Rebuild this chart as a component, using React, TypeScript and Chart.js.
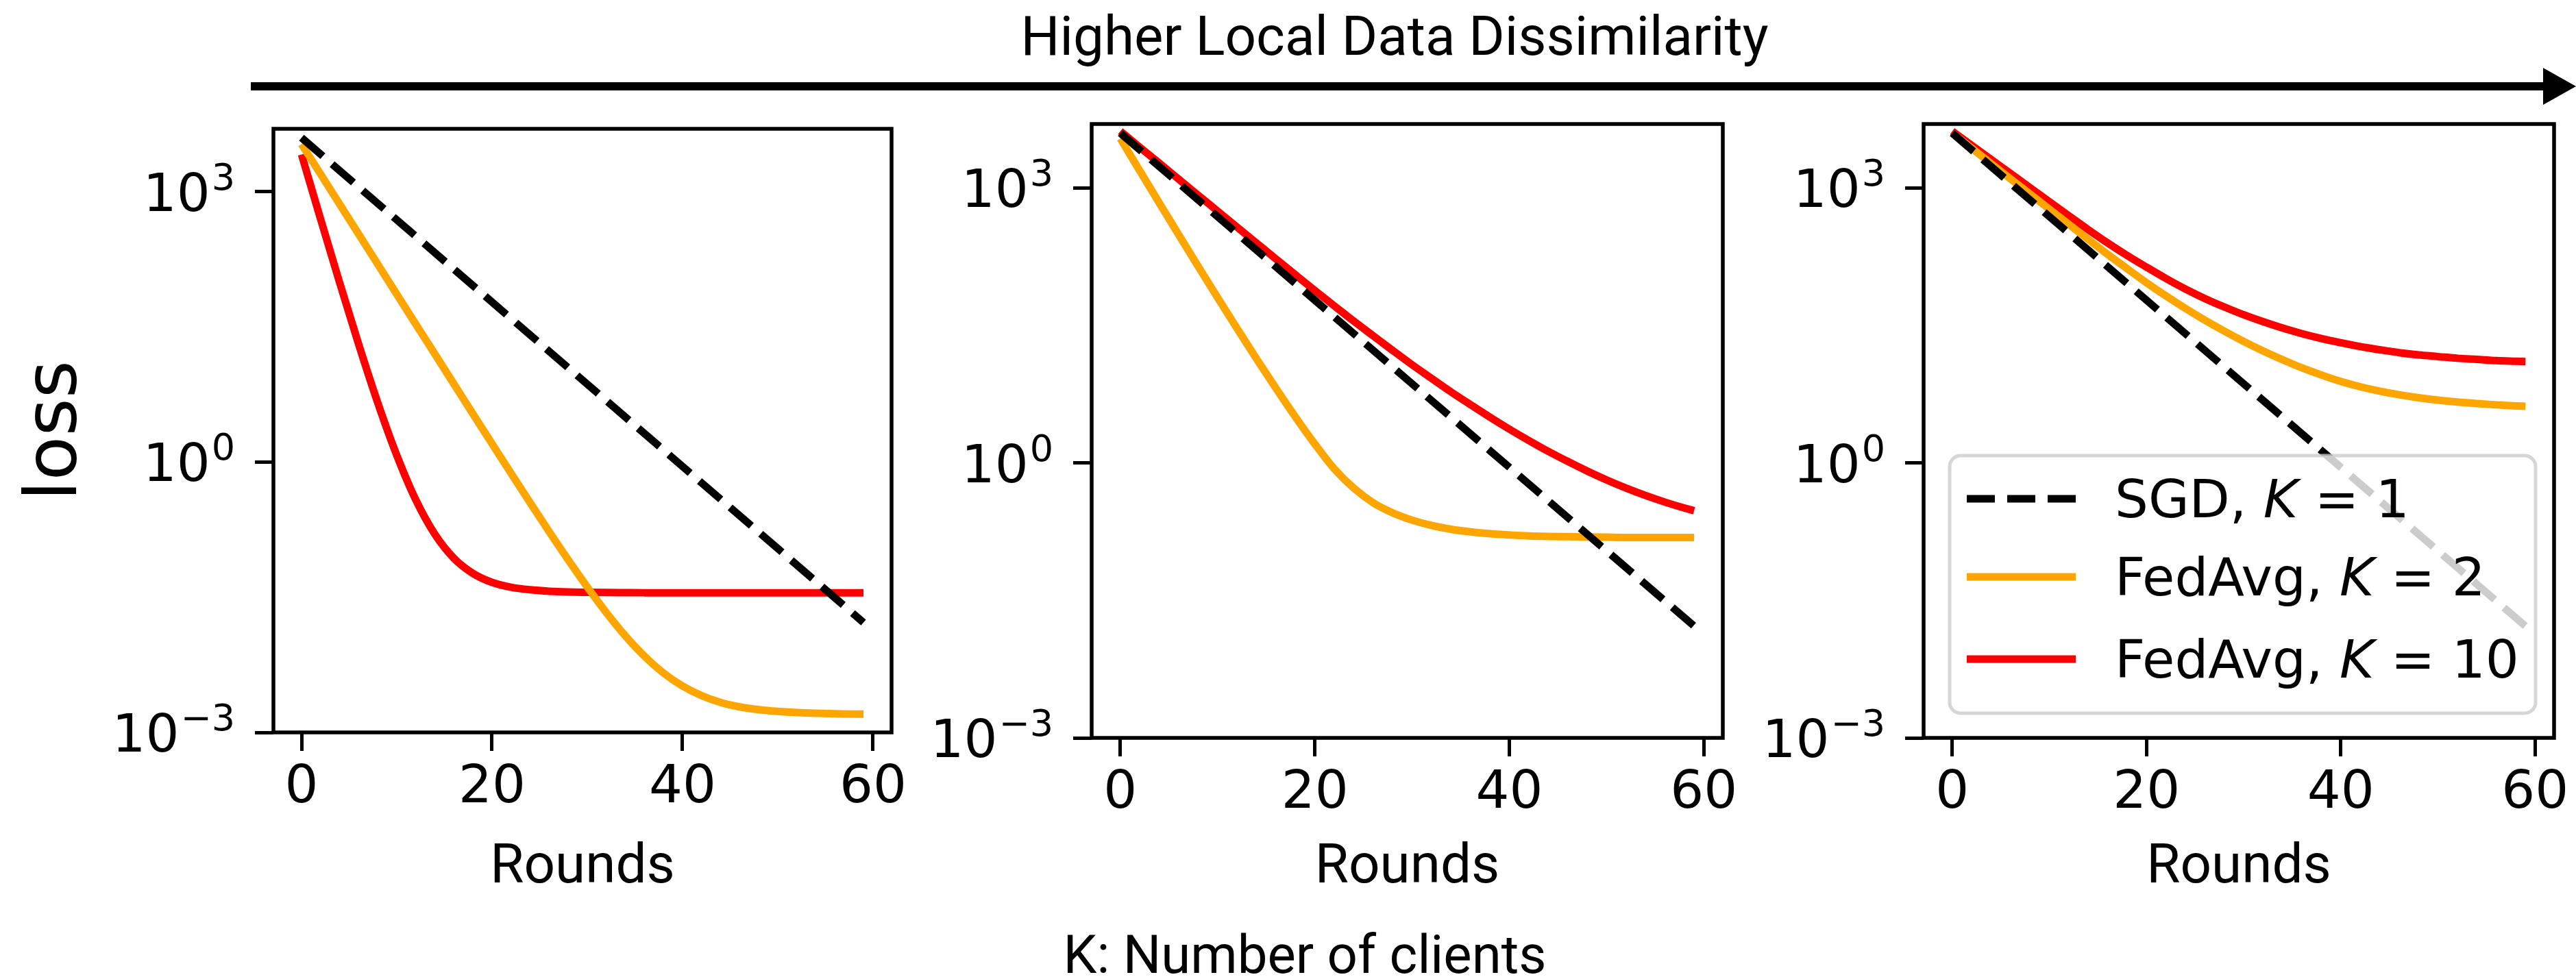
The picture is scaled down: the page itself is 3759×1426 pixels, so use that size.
import React, { useEffect, useRef } from 'react';
import { Chart, registerables } from 'chart.js';

Chart.register(...registerables);

// ---------------- data ----------------
const ROUNDS = [0, 2, 4, 6, 8, 10, 12, 14, 16, 18, 20, 22, 24, 26, 28, 30, 32, 34, 36, 38, 40, 42, 44, 46, 48, 50, 52, 54, 56, 58, 59];

const SGD_ROUNDS = [0, 59];
const SGD_LOSS = [3980, 0.0166];

const P1_FEDAVG_K2 = [3390, 1570, 729, 339, 157, 72.9, 33.9, 15.8, 7.35, 3.42, 1.6, 0.75, 0.354, 0.169, 0.0822, 0.0411, 0.0214, 0.0118, 0.00703, 0.00457, 0.00327, 0.00256, 0.00215, 0.00192, 0.00179, 0.00171, 0.00166, 0.00163, 0.00161, 0.0016, 0.0016];
const P1_FEDAVG_K10 = [2590, 498, 98.1, 20.3, 4.57, 1.19, 0.38, 0.158, 0.0855, 0.0581, 0.0463, 0.0409, 0.0383, 0.0369, 0.0362, 0.0359, 0.0357, 0.0356, 0.0355, 0.0355, 0.0355, 0.0355, 0.0355, 0.0355, 0.0355, 0.0355, 0.0355, 0.0355, 0.0355, 0.0355, 0.0355];

const P2_FEDAVG_K2 = [3470, 1540, 689, 309, 140, 63.7, 29.4, 13.7, 6.53, 3.18, 1.61, 0.863, 0.532, 0.368, 0.286, 0.238, 0.208, 0.189, 0.177, 0.169, 0.164, 0.16, 0.158, 0.157, 0.156, 0.155, 0.154, 0.154, 0.154, 0.154, 0.154];
const P2_FEDAVG_K10 = [4170, 2790, 1870, 1250, 836, 560, 375, 251, 168, 113, 76.2, 51.8, 35.3, 24.4, 16.9, 11.8, 8.38, 5.97, 4.33, 3.16, 2.34, 1.76, 1.34, 1.04, 0.817, 0.653, 0.532, 0.442, 0.374, 0.322, 0.302];

const P3_FEDAVG_K2 = [3980, 2720, 1850, 1260, 863, 589, 402, 275, 189, 132, 92.7, 66.5, 48.6, 36.2, 27.5, 21.2, 16.7, 13.4, 10.9, 9.12, 7.76, 6.79, 6.08, 5.55, 5.15, 4.85, 4.62, 4.45, 4.31, 4.2, 4.15];
const P3_FEDAVG_K10 = [4170, 2920, 2050, 1440, 1010, 708, 498, 352, 252, 184, 137, 103, 79.1, 62.4, 50.4, 41.4, 34.8, 29.7, 25.8, 22.8, 20.5, 18.6, 17.2, 16.0, 15.1, 14.5, 13.9, 13.5, 13.1, 12.9, 12.8];

const SERIES_LABELS = ['SGD, K = 1', 'FedAvg, K = 2', 'FedAvg, K = 10'];
const X_TICKS = [0, 20, 40, 60];
const Y_TICKS = [0.001, 1, 1000];
const Y_TICK_EXPONENTS = ['\u22123', '0', '3'];
const TOP_LABEL = 'Higher Local Data Dissimilarity';
const X_TITLE = 'Rounds';
const Y_TITLE = 'loss';
const CAPTION = 'K: Number of clients';

// ---------------- layout / style ----------------
const PANELS = [
  { left: 0, top: 178, width: 1341, height: 1162, padLeft: 399, xh: 271, k2: P1_FEDAVG_K2, k10: P1_FEDAVG_K10, yTitle: true, legend: false },
  { left: 1293, top: 171, width: 1261, height: 1169, padLeft: 300, xh: 263, k2: P2_FEDAVG_K2, k10: P2_FEDAVG_K10, yTitle: false, legend: false },
  { left: 2507, top: 171, width: 1260, height: 1169, padLeft: 300, xh: 263, k2: P3_FEDAVG_K2, k10: P3_FEDAVG_K10, yTitle: false, legend: true },
];

const MPL_FONT = '"DejaVu Sans"';
const SANS_FONT = 'Roboto, "Noto Sans", sans-serif';
const LINE_W = 11;
const TICK_LEN = 27;
const TICK_FONT = 77;

const framePlugin = {
  id: 'frame',
  afterDraw(chart: any) {
    const { ctx, chartArea: a } = chart;
    ctx.save();
    ctx.strokeStyle = '#000';
    ctx.lineWidth = 5.5;
    ctx.strokeRect(a.left, a.top, a.right - a.left, a.bottom - a.top);
    ctx.restore();
  },
};

const yLabelPlugin = {
  id: 'yLabels',
  afterDraw(chart: any) {
    const { ctx, chartArea: a } = chart;
    const ys = chart.scales.y;
    ctx.save();
    ctx.fillStyle = '#000';
    ctx.textBaseline = 'alphabetic';
    ctx.textAlign = 'left';
    Y_TICKS.forEach((v, i) => {
      const py = ys.getPixelForValue(v);
      const right = a.left - 56;
      const sup = Y_TICK_EXPONENTS[i];
      ctx.font = `54px ${MPL_FONT}`;
      const sw = ctx.measureText(sup).width;
      ctx.fillText(sup, right - sw, py - 3);
      ctx.font = `${TICK_FONT}px ${MPL_FONT}`;
      const bw = ctx.measureText('10').width;
      ctx.fillText('10', right - sw - bw - 2, py + 28);
    });
    ctx.restore();
  },
};

const legendPlugin = {
  id: 'insetLegend',
  afterDatasetsDraw(chart: any) {
    const { ctx, chartArea: a } = chart;
    const left = a.left + 38;
    const right = a.right - 27;
    const bottom = a.bottom - 36;
    const top = bottom - 376;
    const r = 16;
    ctx.save();
    ctx.beginPath();
    ctx.moveTo(left + r, top);
    ctx.lineTo(right - r, top);
    ctx.arcTo(right, top, right, top + r, r);
    ctx.lineTo(right, bottom - r);
    ctx.arcTo(right, bottom, right - r, bottom, r);
    ctx.lineTo(left + r, bottom);
    ctx.arcTo(left, bottom, left, bottom - r, r);
    ctx.lineTo(left, top + r);
    ctx.arcTo(left, top, left + r, top, r);
    ctx.closePath();
    ctx.fillStyle = 'rgba(255,255,255,0.8)';
    ctx.fill();
    ctx.strokeStyle = 'rgba(204,204,204,0.8)';
    ctx.lineWidth = 5;
    ctx.stroke();

    const rows = [63, 177, 297];
    chart.data.datasets.forEach((ds: any, i: number) => {
      const y = top + rows[i];
      ctx.beginPath();
      ctx.setLineDash(ds.borderDash || []);
      ctx.lineWidth = ds.borderWidth;
      ctx.strokeStyle = ds.borderColor;
      ctx.lineCap = 'butt';
      ctx.moveTo(left + 25, y);
      ctx.lineTo(left + 184, y);
      ctx.stroke();
      ctx.setLineDash([]);

      const parts = String(ds.label).split('K');
      let x = left + 241;
      const base = y + 27;
      ctx.fillStyle = '#000';
      ctx.textBaseline = 'alphabetic';
      ctx.textAlign = 'left';
      ctx.font = `77px ${MPL_FONT}`;
      ctx.fillText(parts[0], x, base);
      x += ctx.measureText(parts[0]).width;
      ctx.font = `oblique 77px ${MPL_FONT}`;
      ctx.fillText('K', x, base);
      x += ctx.measureText('K').width;
      ctx.font = `77px ${MPL_FONT}`;
      ctx.fillText(parts[1], x, base);
    });
    ctx.restore();
  },
};

function buildConfig(p: any) {
  const tickGrid = {
    display: true,
    drawOnChartArea: false,
    drawTicks: true,
    tickLength: TICK_LEN,
    tickWidth: 5,
    tickColor: '#000',
    color: '#000',
  };
  const plugins: any[] = [framePlugin, yLabelPlugin];
  if (p.legend) plugins.push(legendPlugin);
  return {
    type: 'line',
    data: {
      datasets: [
        {
          label: SERIES_LABELS[0],
          data: SGD_ROUNDS.map((x, i) => ({ x, y: SGD_LOSS[i] })),
          borderColor: '#000000',
          borderDash: [41, 18],
          borderWidth: LINE_W,
          pointRadius: 0,
          tension: 0,
        },
        {
          label: SERIES_LABELS[1],
          data: ROUNDS.map((x, i) => ({ x, y: p.k2[i] })),
          borderColor: '#FFA500',
          borderWidth: LINE_W,
          pointRadius: 0,
          cubicInterpolationMode: 'monotone',
        },
        {
          label: SERIES_LABELS[2],
          data: ROUNDS.map((x, i) => ({ x, y: p.k10[i] })),
          borderColor: '#FF0000',
          borderWidth: LINE_W,
          pointRadius: 0,
          cubicInterpolationMode: 'monotone',
        },
      ],
    },
    options: {
      animation: false,
      responsive: false,
      devicePixelRatio: 1,
      events: [],
      layout: { padding: { top: 10, right: 40, left: 0, bottom: 0 } },
      plugins: { legend: { display: false }, tooltip: { enabled: false }, title: { display: false } },
      scales: {
        x: {
          type: 'linear',
          min: -2.95,
          max: 61.95,
          afterBuildTicks: (s: any) => {
            s.ticks = X_TICKS.map((v) => ({ value: v }));
          },
          afterFit: (s: any) => {
            s.height = p.xh;
            s.paddingLeft = 0;
            s.paddingRight = 0;
            s.paddingTop = 0;
            s.paddingBottom = 0;
          },
          grid: tickGrid,
          border: { display: false },
          ticks: {
            color: '#000',
            font: { family: MPL_FONT, size: TICK_FONT, lineHeight: 1.2 },
            padding: 9,
            maxRotation: 0,
            autoSkip: false,
          },
          title: {
            display: true,
            text: X_TITLE,
            color: '#000',
            font: { family: SANS_FONT, size: 80, lineHeight: 1 },
            padding: { top: 0, bottom: 32 },
          },
        },
        y: {
          type: 'logarithmic',
          min: 0.001,
          max: 5000,
          afterBuildTicks: (s: any) => {
            s.ticks = Y_TICKS.map((v) => ({ value: v }));
          },
          afterFit: (s: any) => {
            s.width = p.padLeft;
            s.paddingLeft = 0;
            s.paddingRight = 0;
            s.paddingTop = 0;
            s.paddingBottom = 0;
          },
          grid: tickGrid,
          border: { display: false },
          ticks: { display: false },
          title: {
            display: !!p.yTitle,
            text: Y_TITLE,
            color: '#000',
            font: { family: MPL_FONT, size: 106, lineHeight: 1 },
            padding: { top: 30, bottom: 0 },
          },
        },
      },
    },
    plugins,
  } as any;
}

function Panel({ p }: { p: any }) {
  const ref = useRef<HTMLCanvasElement>(null);
  useEffect(() => {
    const chart = new Chart(ref.current as HTMLCanvasElement, buildConfig(p));
    return () => chart.destroy();
  }, [p]);
  return (
    <canvas
      ref={ref}
      width={p.width}
      height={p.height}
      style={{ position: 'absolute', left: p.left, top: p.top, width: p.width, height: p.height }}
    />
  );
}

export default function App() {
  return (
    <div
      style={{
        position: 'absolute',
        left: 0,
        top: 0,
        width: 3759,
        height: 1426,
        overflow: 'hidden',
        background: '#fff',
      }}
    >
      <div
        style={{
          position: 'absolute',
          left: 2035,
          top: 13,
          transform: 'translateX(-50%)',
          whiteSpace: 'nowrap',
          fontFamily: SANS_FONT,
          fontSize: 80,
          lineHeight: 1,
          color: '#000',
        }}
      >
        {TOP_LABEL}
      </div>
      <svg style={{ position: 'absolute', left: 0, top: 0 }} width={3759} height={170}>
        <rect x={366} y={120} width={3346} height={12} fill="#000" />
        <polygon points="3711,99 3759,126 3711,153" fill="#000" />
      </svg>
      {PANELS.map((p, i) => (
        <Panel key={i} p={p} />
      ))}
      <div
        style={{
          position: 'absolute',
          left: 1904,
          top: 1355,
          transform: 'translateX(-50%)',
          whiteSpace: 'nowrap',
          fontFamily: SANS_FONT,
          fontSize: 78,
          lineHeight: 1,
          color: '#000',
        }}
      >
        {CAPTION}
      </div>
    </div>
  );
}
